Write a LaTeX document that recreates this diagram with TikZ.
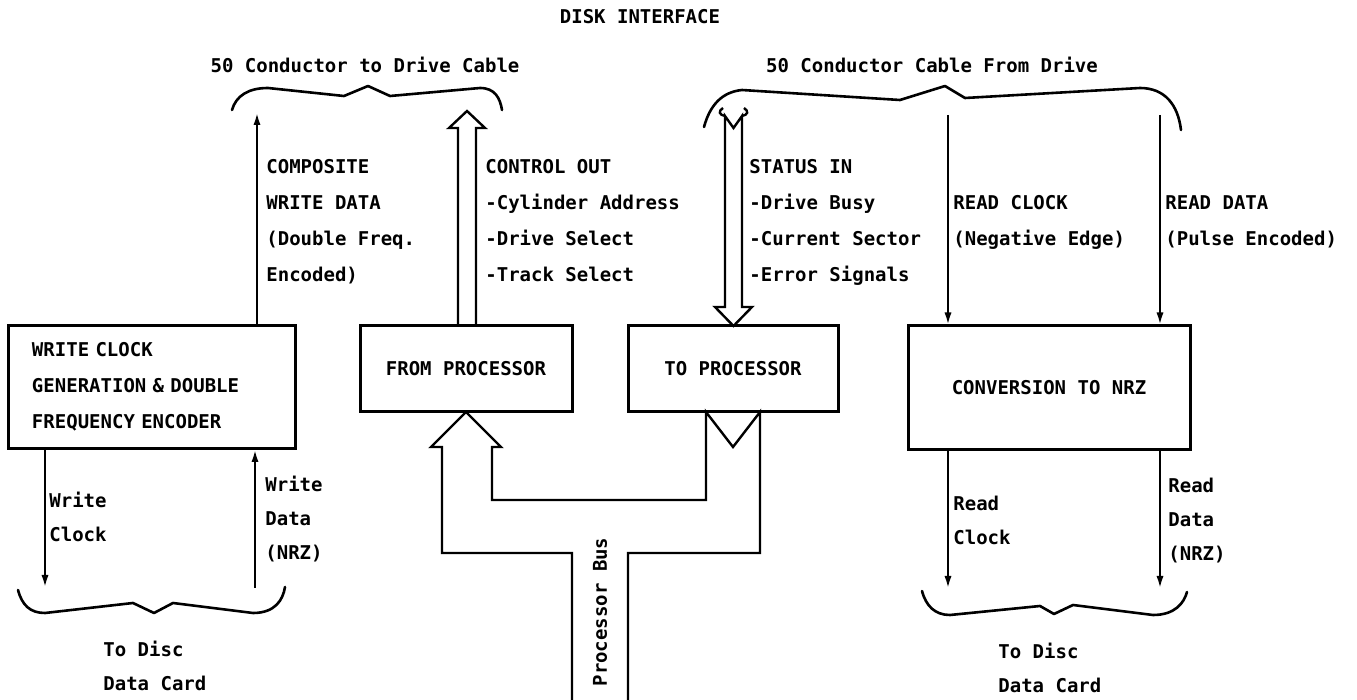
\documentclass[tikz,border=0pt]{standalone}
\usepackage{fontspec}
\setmainfont{DejaVu Sans Mono}
\usetikzlibrary{arrows.meta}
\newcommand\lblfont{\fontsize{9.5}{18}\selectfont\bfseries}
\newcommand\lblfontb{\fontsize{9.5}{17}\selectfont\bfseries}
\tikzset{
  box/.style={draw, line width=1.5pt, inner sep=0pt, font=\lblfont},
  lbl/.style={font=\lblfont, align=left, anchor=north west, inner sep=0pt},
  lblb/.style={font=\lblfontb, align=left, anchor=north west, inner sep=0pt},
  ttl/.style={font=\lblfont, inner sep=0pt},
  sig/.style={line width=1pt, -{Latex[length=6pt,width=3.6pt]}},
  brace/.style={line width=1.3pt, line cap=round, line join=round},
  bus/.style={line width=1.2pt, line join=miter}
}
\begin{document}
\begin{tikzpicture}[x=0.5pt,y=-0.5pt]
\useasboundingbox (0,0) rectangle (1357,700);

% titles
\node[ttl] (title) at (640,17) {DISK INTERFACE};
\node[ttl] (cab1) at (365,65) {50 Conductor to Drive Cable};
\node[ttl] (cab2) at (932,65) {50 Conductor Cable From Drive};

% braces
\draw[brace] (232,110) .. controls (236,96) and (248,88) .. (268,88) -- (344,96) -- (368,86) -- (390,96) -- (480,88) .. controls (495,88) and (500,98) .. (502,110);
\draw[brace] (704,127) .. controls (710,105) and (722,92) .. (742,90) -- (900,100) -- (945,86) -- (965,98) -- (1140,88) .. controls (1165,88) and (1178,105) .. (1181,130);
\draw[brace] (18,590) .. controls (22,605) and (30,613) .. (45,613) -- (133,603) -- (154,613) -- (173,603) -- (253,613) .. controls (275,613) and (283,600) .. (285,587);
\draw[brace] (922,591) .. controls (926,606) and (935,615) .. (950,615) -- (1040,606) -- (1054,614) -- (1073,605) -- (1153,615) .. controls (1175,615) and (1184,603) .. (1187,592);

% boxes
\node[box, minimum width=143.5pt, minimum height=61.5pt, text width=119.5pt, inner xsep=12pt, align=left] (wc) at (151.5,387)
  {WRITE CLOCK\\GENERATION \& DOUBLE\\FREQUENCY ENCODER};
\node[box, minimum width=106pt, minimum height=43pt] (from) at (466,369) {FROM PROCESSOR};
\node[box, minimum width=105pt, minimum height=43pt] (to) at (733,369) {TO PROCESSOR};
\node[box, minimum width=141pt, minimum height=62pt] (conv) at (1049,388) {CONVERSION TO NRZ};

% top signal lines
\coordinate (cwtop) at (257,113);
\draw[sig] (wc.north -| cwtop) -- (cwtop);
\coordinate (rctop) at (948,115);
\coordinate (rdtop) at (1160,115);
\draw[sig] (rctop) -- (conv.north -| rctop);
\draw[sig] (rdtop) -- (conv.north -| rdtop);

% control out hollow arrow
\draw[bus] (458,326) -- (458,128) -- (449,128) -- (467,111) -- (485,128) -- (476,128) -- (476,326);
% status in hollow arrow
\draw[bus] (725,307) -- (725,116) -- (733.5,128) -- (742,116) -- (742,307) -- (752,307) -- (733.5,326) -- (715,307) -- cycle;
\draw[bus] (725,116) .. controls (719,115) and (718,111) .. (723,108);
\draw[bus] (742,116) .. controls (748,115) and (749,111) .. (744,108);

% bottom signal lines
\coordinate (wcb) at (45,587);
\coordinate (wdb) at (255,588);
\coordinate (rcb) at (948,588);
\coordinate (rdb) at (1160,588);
\draw[sig] (wc.south -| wcb) -- (wcb);
\draw[sig] (wdb) -- (wc.south -| wdb);
\draw[sig] (conv.south -| rcb) -- (rcb);
\draw[sig] (conv.south -| rdb) -- (rdb);

% processor bus
\draw[bus] (572,700) -- (572,553) -- (442,553) -- (442,447) -- (431,447) -- (466,412) -- (501,447) -- (492,447) -- (492,500) -- (706,500) -- (706,412) -- (733,447) -- (760,412) -- (760,553) -- (628,553) -- (628,700);
\node[ttl, rotate=90] (pbus) at (600,612) {Processor Bus};

% labels top
\node[lbl] (lcomp) at (266,159) {COMPOSITE\\WRITE DATA\\(Double Freq.\\Encoded)};
\node[lbl] (lctrl) at (485,159) {CONTROL OUT\\-Cylinder Address\\-Drive Select\\-Track Select};
\node[lbl] (lstat) at (749,159) {STATUS IN\\-Drive Busy\\-Current Sector\\-Error Signals};
\node[lbl] (lrc) at (953,195) {READ CLOCK\\(Negative Edge)};
\node[lbl] (lrd) at (1165,195) {READ DATA\\(Pulse Encoded)};

% labels bottom
\node[lblb] (lwc) at (49,492) {Write\\Clock};
\node[lblb] (lwd) at (265,476) {Write\\Data\\(NRZ)};
\node[lblb] (lrcb) at (953,496) {Read\\Clock};
\node[lblb] (lrdb) at (1168,478) {Read\\Data\\(NRZ)};
\node[lblb] (ldl) at (103,641) {To Disc\\Data Card};
\node[lblb] (ldr) at (998,643) {To Disc\\Data Card};
\end{tikzpicture}
\end{document}
